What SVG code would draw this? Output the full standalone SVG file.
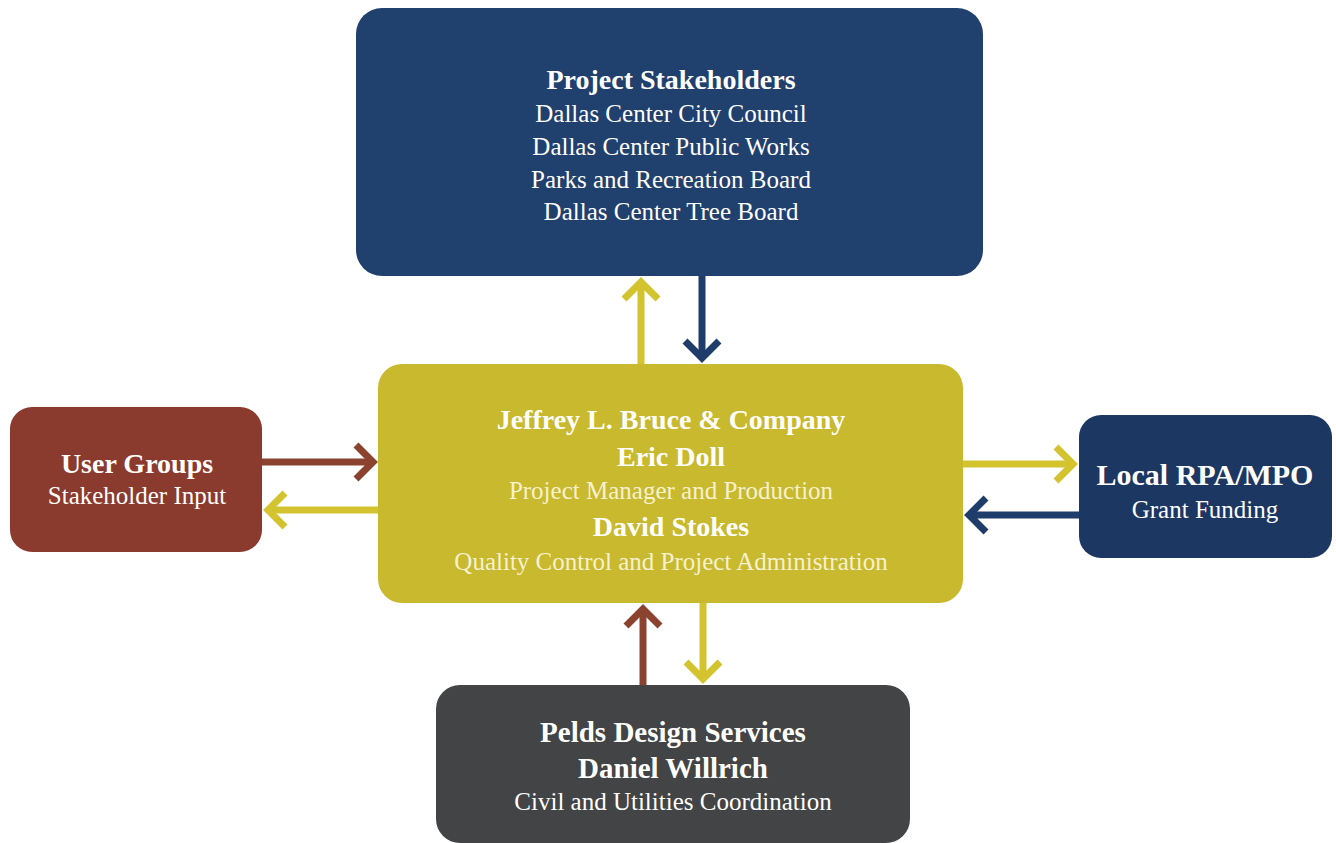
<svg xmlns="http://www.w3.org/2000/svg" width="1336" height="843" viewBox="0 0 1336 843">
<style>
.b{font-family:"Liberation Serif","Times New Roman",serif;font-weight:bold;font-size:28px;fill:#ffffff;text-anchor:middle}
.r{font-family:"Liberation Serif","Times New Roman",serif;font-size:25px;fill:#ffffff;text-anchor:middle}
.rl{font-family:"Liberation Serif","Times New Roman",serif;font-size:25px;fill:#f6f1cf;text-anchor:middle}
.ln{fill:none;stroke-width:7}
.y{stroke:#d3c32f}.n{stroke:#1f3d6b}.br{stroke:#8b4330}
</style>
<defs>
<marker id="hy" markerUnits="userSpaceOnUse" viewBox="-22 -22 44 44" markerWidth="44" markerHeight="44" refX="0" refY="0" orient="auto" overflow="visible"><path d="M-17,-17 L0,0 L-17,17" fill="none" stroke="#d3c32f" stroke-width="7"/></marker>
<marker id="hn" markerUnits="userSpaceOnUse" viewBox="-22 -22 44 44" markerWidth="44" markerHeight="44" refX="0" refY="0" orient="auto" overflow="visible"><path d="M-17,-17 L0,0 L-17,17" fill="none" stroke="#1f3d6b" stroke-width="7"/></marker>
<marker id="hb" markerUnits="userSpaceOnUse" viewBox="-22 -22 44 44" markerWidth="44" markerHeight="44" refX="0" refY="0" orient="auto" overflow="visible"><path d="M-17,-17 L0,0 L-17,17" fill="none" stroke="#8b4330" stroke-width="7"/></marker>
</defs>
<rect width="1336" height="843" fill="#ffffff"/>
<g id="connectors">
<path class="ln y" d="M641,364 L641,282" marker-end="url(#hy)"/>
<path class="ln n" d="M702,276 L702,358" marker-end="url(#hn)"/>
<path class="ln br" d="M262,462 L373,462" marker-end="url(#hb)"/>
<path class="ln y" d="M378,510 L268,510" marker-end="url(#hy)"/>
<path class="ln y" d="M963,464 L1073,464" marker-end="url(#hy)"/>
<path class="ln n" d="M1079,515 L969,515" marker-end="url(#hn)"/>
<path class="ln br" d="M643,685 L643,609" marker-end="url(#hb)"/>
<path class="ln y" d="M703,603 L703,679" marker-end="url(#hy)"/>
</g>
<g id="stakeholders">
<rect x="356" y="8" width="627" height="268" rx="26" fill="#20406e"/>
<text class="b" x="671" y="89">Project Stakeholders</text>
<text class="r" x="671" y="122">Dallas Center City Council</text>
<text class="r" x="671" y="155">Dallas Center Public Works</text>
<text class="r" x="671" y="188">Parks and Recreation Board</text>
<text class="r" x="671" y="220">Dallas Center Tree Board</text>
</g>
<g id="jlbc">
<rect x="378" y="364" width="585" height="239" rx="24" fill="#c8b92e"/>
<text class="b" x="671" y="429">Jeffrey L. Bruce &amp; Company</text>
<text class="b" x="671" y="466">Eric Doll</text>
<text class="rl" x="671" y="499">Project Manager and Production</text>
<text class="b" x="671" y="536">David Stokes</text>
<text class="rl" x="671" y="570">Quality Control and Project Administration</text>
</g>
<g id="usergroups">
<rect x="10" y="407" width="252" height="145" rx="22" fill="#8b3a2e"/>
<text class="b" x="137" y="473">User Groups</text>
<text class="r" x="137" y="504">Stakeholder Input</text>
</g>
<g id="rpa">
<rect x="1079" y="415" width="253" height="143" rx="22" fill="#1c3762"/>
<text class="b" x="1205" y="485" style="font-size:30px">Local RPA/MPO</text>
<text class="r" x="1205" y="518">Grant Funding</text>
</g>
<g id="pelds">
<rect x="436" y="685" width="474" height="158" rx="24" fill="#424445"/>
<text class="b" x="673" y="742" style="font-size:29px">Pelds Design Services</text>
<text class="b" x="673" y="778" style="font-size:29px">Daniel Willrich</text>
<text class="r" x="673" y="810">Civil and Utilities Coordination</text>
</g>
</svg>
